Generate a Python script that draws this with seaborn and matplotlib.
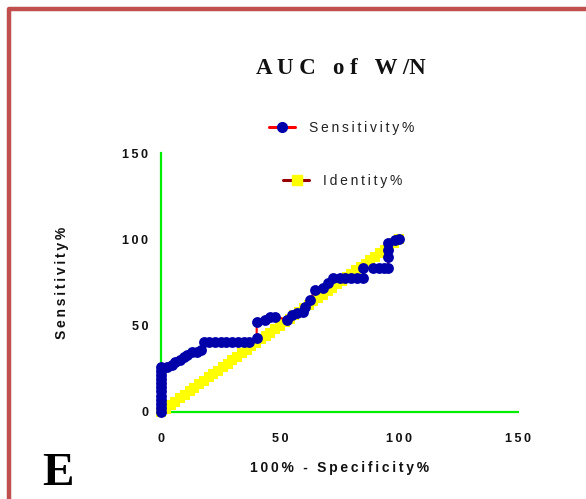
import matplotlib
matplotlib.use("Agg")
import matplotlib.pyplot as plt
from matplotlib.lines import Line2D
from matplotlib.patches import Rectangle
import seaborn as sns
import pandas as pd

# ---- data ----
spec_x = [0, 0, 0, 0, 0, 0, 0, 0, 0, 0, 0, 0,
          2.4, 4.5, 6.0, 8.0, 9.5, 11.0, 13.0, 15.0, 17.0,
          18.0, 20.0, 22.5, 25.0, 27.5, 30.0, 32.5, 35.0, 37.0,
          40.2, 40.2, 43.7, 45.8, 47.9,
          52.8, 54.9, 57.0, 59.8, 60.5, 62.6, 64.7, 68.2, 70.3, 72.4,
          75.0, 77.5, 80.0, 82.5, 85.0, 85.0,
          89.2, 91.5, 93.5, 95.5, 95.5, 95.5, 95.5, 98.3, 100.0]
sens_y = [0, 2.4, 4.8, 7.1, 9.5, 11.9, 14.3, 16.7, 19.0, 21.4, 23.8, 26.2,
          26.2, 27.5, 29.0, 30.0, 32.0, 33.0, 35.0, 35.0, 36.0,
          40.5, 40.5, 40.5, 40.5, 40.5, 40.5, 40.5, 40.5, 40.5,
          43.0, 52.3, 53.3, 55.2, 55.2,
          53.5, 56.2, 57.1, 58.1, 61.0, 64.9, 70.6, 71.6, 74.5, 77.4,
          77.5, 77.5, 77.5, 77.5, 77.5, 83.2,
          83.2, 83.2, 83.2, 83.2, 89.9, 93.8, 97.7, 99.6, 100.0]
ident_x = [0, 2, 4, 6, 8, 10, 12, 14, 16, 18, 20, 22, 24, 26, 28, 30, 32, 34,
           36, 38, 40, 42, 44, 46, 48, 50, 52, 54, 56, 58, 60, 62, 64, 66, 68,
           70, 72, 74, 76, 78, 80, 82, 84, 86, 88, 90, 92, 94, 96, 98, 100]
ident_y = [0, 2, 4, 6, 8, 10, 12, 14, 16, 18, 20, 22, 24, 26, 28, 30, 32, 34,
           36, 38, 40, 42, 44, 46, 48, 50, 52, 54, 56, 58, 60, 62, 64, 66, 68,
           70, 72, 74, 76, 78, 80, 82, 84, 86, 88, 90, 92, 94, 96, 98, 100]
ticks = [0, 50, 100, 150]
title = "AUC of W/N"
series_names = ["Sensitivity%", "Identity%"]
xlabel = "100% - Specificity%"
ylabel = "Sensitivity%"
panel = "E"

THIN = "\u2009"


def spaced(s, sep=THIN):
    return sep.join(list(s))


W, H = 586, 499
sns.set_style("white")
plt.rcParams["font.family"] = ["Liberation Sans", "DejaVu Sans"]

fig = plt.figure(figsize=(W / 100, H / 100), dpi=100)
ax = fig.add_axes([161 / W, 1 - 412 / H, (518 - 161) / W, (412 - 153) / H])

GREEN = "#00ee00"
BLUE = "#0000aa"
YELLOW = "#ffff00"

df_id = pd.DataFrame({"x": ident_x, "y": ident_y})
df_s = pd.DataFrame({"x": spec_x, "y": sens_y})

sns.lineplot(data=df_id, x="x", y="y", ax=ax, estimator=None, sort=False,
             color="#990000", linewidth=1.5, marker="s", markersize=7,
             markerfacecolor=YELLOW, markeredgecolor=YELLOW, markeredgewidth=0,
             clip_on=False, zorder=3)
sns.lineplot(data=df_s, x="x", y="y", ax=ax, estimator=None, sort=False,
             color="#ff0000", linewidth=1.5, marker="o", markersize=7.8,
             markerfacecolor=BLUE, markeredgecolor=BLUE, markeredgewidth=0,
             clip_on=False, zorder=4)

ax.set_xlim(0, 150)
ax.set_ylim(0, 150)
ax.set_xticks(ticks)
ax.set_yticks(ticks)
ax.set_xticklabels([spaced(str(t)) for t in ticks])
ax.set_yticklabels([spaced(str(t)) for t in ticks])
ax.set_xlabel("")
ax.set_ylabel("")
for side in ["top", "right"]:
    ax.spines[side].set_visible(False)
for side in ["left", "bottom"]:
    ax.spines[side].set_color(GREEN)
    ax.spines[side].set_linewidth(1.6)
ax.tick_params(axis="both", which="major", direction="out", length=5, width=1.6,
               color=GREEN, labelsize=9, labelcolor="#111111")
ax.tick_params(axis="x", pad=10)
ax.tick_params(axis="y", pad=4)
for lab in ax.get_xticklabels() + ax.get_yticklabels():
    lab.set_fontweight("bold")

# axis labels
fig.text(340 / W, 1 - 468 / H, spaced(xlabel), ha="center", va="center",
         fontsize=10, fontweight="bold", color="#111111")
fig.text(62 / W, 1 - 283 / H, spaced(ylabel), ha="center", va="center",
         rotation=90, fontsize=10, fontweight="bold", color="#111111")

# title
fig.text(341 / W, 1 - 74 / H, "A U C\u2002 o f\u2002 W /N",
         ha="center", va="baseline", fontsize=16.5, fontweight="bold",
         family=["Liberation Serif", "DejaVu Serif"], color="#111111")

# panel letter
fig.text(58 / W, 1 - 485 / H, panel, ha="center", va="baseline",
         fontsize=34, fontweight="bold", family=["Liberation Serif", "DejaVu Serif"],
         color="black")

# legend (manual)
def fx(p):
    return p / W


def fy(p):
    return 1 - p / H


fig.add_artist(Line2D([fx(269), fx(295)], [fy(127), fy(127)], color="#ff0000",
                      linewidth=2.2, transform=fig.transFigure))
fig.add_artist(Line2D([fx(282)], [fy(127)], marker="o", markersize=7,
                      markerfacecolor=BLUE, markeredgecolor=BLUE,
                      transform=fig.transFigure))
fig.text(fx(309), fy(128), spaced(series_names[0]), ha="left", va="center",
         fontsize=10, color="#222222")
fig.add_artist(Line2D([fx(283), fx(309)], [fy(180), fy(180)], color="#990000",
                      linewidth=2.2, transform=fig.transFigure))
fig.add_artist(Line2D([fx(297)], [fy(180)], marker="s", markersize=7.3,
                      markerfacecolor=YELLOW, markeredgecolor=YELLOW,
                      transform=fig.transFigure))
fig.text(fx(323), fy(181), spaced(series_names[1]), ha="left", va="center",
         fontsize=10, color="#222222")

# frame border
fig.add_artist(Rectangle((fx(9), fy(560)), fx(700), (560 - 9) / H, fill=False,
                         edgecolor="#c0504d", linewidth=3.2, joinstyle="round",
                         transform=fig.transFigure))

fig.savefig("out.png", dpi=100)
